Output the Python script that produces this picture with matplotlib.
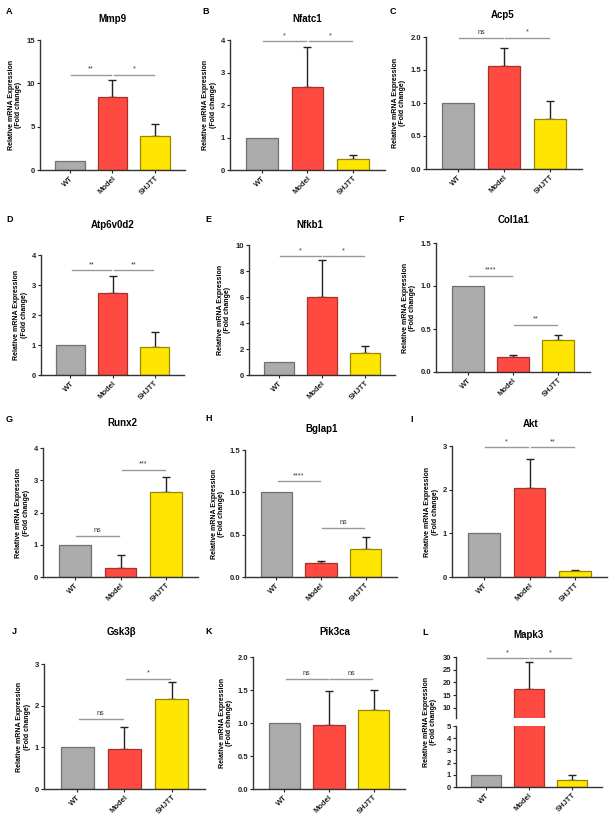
import matplotlib
matplotlib.use("Agg")
import matplotlib.pyplot as plt
import numpy as np

plt.rcParams['font.family'] = ['Liberation Sans', 'DejaVu Sans']
plt.rcParams['font.weight'] = 'bold'

# data
groups = ["WT", "Model", "SHJTT"]

mmp9 = [1.0, 8.4, 3.95]
mmp9_sd = [0, 1.95, 1.4]
mmp9_sig = [("**", 0, 1, 11.0), ("*", 1, 2, 11.0)]

nfatc1 = [1.0, 2.55, 0.34]
nfatc1_sd = [0, 1.22, 0.11]
nfatc1_sig = [("*", 0, 1, 3.97), ("*", 1, 2, 3.97)]

acp5 = [1.0, 1.555, 0.76]
acp5_sd = [0, 0.275, 0.27]
acp5_sig = [("ns", 0, 1, 1.99), ("*", 1, 2, 1.99)]

atp6v0d2 = [1.0, 2.73, 0.92]
atp6v0d2_sd = [0, 0.56, 0.5]
atp6v0d2_sig = [("**", 0, 1, 3.5), ("**", 1, 2, 3.5)]

nfkb1 = [1.0, 5.98, 1.66]
nfkb1_sd = [0, 2.85, 0.6]
nfkb1_sig = [("*", 0, 1, 9.15), ("*", 1, 2, 9.15)]

col1a1 = [1.0, 0.175, 0.37]
col1a1_sd = [0, 0.025, 0.06]
col1a1_sig = [("****", 0, 1, 1.12), ("**", 1, 2, 0.55)]

runx2 = [1.0, 0.29, 2.64]
runx2_sd = [0, 0.39, 0.46]
runx2_sig = [("ns", 0, 1, 1.26), ("***", 1, 2, 3.33)]

bglap1 = [1.0, 0.165, 0.325]
bglap1_sd = [0, 0.025, 0.145]
bglap1_sig = [("****", 0, 1, 1.13), ("ns", 1, 2, 0.58)]

akt = [1.0, 2.03, 0.135]
akt_sd = [0, 0.68, 0.035]
akt_sig = [("*", 0, 1, 2.98), ("**", 1, 2, 2.98)]

gsk3b = [1.0, 0.96, 2.17]
gsk3b_sd = [0, 0.52, 0.39]
gsk3b_sig = [("ns", 0, 1, 1.69), ("*", 1, 2, 2.65)]

pik3ca = [1.0, 0.97, 1.2]
pik3ca_sd = [0, 0.52, 0.3]
pik3ca_sig = [("ns", 0, 1, 1.67), ("ns", 1, 2, 1.67)]

mapk3 = [1.0, 17.5, 0.6]
mapk3_sd = [0, 10.5, 0.4]
mapk3_sig = [("*", 0, 1, 29.8), ("*", 1, 2, 29.8)]

# styles
fill = ["#ababab", "#ff4a42", "#ffe600"]
edge = ["#707070", "#a8322b", "#968800"]
W, H = 616, 821

fig = plt.figure(figsize=(W / 100, H / 100), dpi=100)


def rect(l, t, r, b):
    return [l / W, 1 - b / H, (r - l) / W, (b - t) / H]


def style(ax):
    for s in ["top", "right"]:
        ax.spines[s].set_visible(False)
    for s in ["left", "bottom"]:
        ax.spines[s].set_color("#333333")
        ax.spines[s].set_linewidth(1.0)
    ax.tick_params(axis="both", labelsize=5.5, length=2.5, width=0.8, pad=1, colors="#222222")
    ax.set_xlim(-0.7, 2.7)


def bars(ax, mean, sd):
    x = np.arange(3)
    ax.bar(x, mean, width=0.7, color=fill, edgecolor=edge, linewidth=0.9, zorder=2)
    sd = np.array(sd)
    m = sd > 0
    ax.errorbar(x[m], np.array(mean)[m], yerr=[np.zeros(m.sum()), sd[m]], fmt="none",
                ecolor="#222222", elinewidth=1.0, capsize=3.2, capthick=1.0, zorder=1)


def sigs(ax, sig, ymax):
    for txt, i, j, y in sig:
        ax.plot([i + 0.03, j - 0.03], [y, y], color="#999999", lw=1.0, clip_on=False)
        ax.text((i + j) / 2, y + ymax * 0.015, txt, ha="center", va="bottom",
                fontsize=5.2, fontweight="normal", color="#333333")


def xlabels(ax):
    ax.set_xticks(range(3))
    ax.set_xticklabels(groups, rotation=45, ha="right", rotation_mode="anchor")


ylab = "Relative mRNA Expression\n(Fold change)"

panels = [
    ("A", "Mmp9", mmp9, mmp9_sd, mmp9_sig, 15, [0, 5, 10, 15], "%d", (40, 40, 185, 170), (6, 12), (112, 19)),
    ("B", "Nfatc1", nfatc1, nfatc1_sd, nfatc1_sig, 4, [0, 1, 2, 3, 4], "%d", (230, 40, 385, 170), (202, 12), (307, 19)),
    ("C", "Acp5", acp5, acp5_sd, acp5_sig, 2.0, [0, 0.5, 1.0, 1.5, 2.0], "%.1f", (426, 37, 582, 169), (390, 12), (503, 15)),
    ("D", "Atp6v0d2", atp6v0d2, atp6v0d2_sd, atp6v0d2_sig, 4, [0, 1, 2, 3, 4], "%d", (41, 255, 184, 375), (6, 219), (113, 225)),
    ("E", "Nfkb1", nfkb1, nfkb1_sd, nfkb1_sig, 10, [0, 2, 4, 6, 8, 10], "%d", (249, 245, 395, 375), (205, 219), (310, 225)),
    ("F", "Col1a1", col1a1, col1a1_sd, col1a1_sig, 1.5, [0, 0.5, 1.0, 1.5], "%.1f", (436, 243, 590, 372), (398, 219), (513, 220)),
    ("G", "Runx2", runx2, runx2_sd, runx2_sig, 4, [0, 1, 2, 3, 4], "%d", (43, 448, 198, 577), (6, 419), (122, 423)),
    ("H", "Bglap1", bglap1, bglap1_sd, bglap1_sig, 1.5, [0, 0.5, 1.0, 1.5], "%.1f", (245, 450, 397, 577), (205, 418), (322, 429)),
    ("I", "Akt", akt, akt_sd, akt_sig, 3, [0, 1, 2, 3], "%d", (452, 446, 607, 577), (410, 419), (531, 424)),
    ("J", "Gsk3\u03b2", gsk3b, gsk3b_sd, gsk3b_sig, 3, [0, 1, 2, 3], "%d", (44, 664, 205, 789), (12, 631), (121, 632)),
    ("K", "Pik3ca", pik3ca, pik3ca_sd, pik3ca_sig, 2.0, [0, 0.5, 1.0, 1.5, 2.0], "%.1f", (253, 657, 405, 789), (205, 631), (335, 632)),
]

for letter, title, mean, sd, sig, ymax, yt, fmt, r, lp, tp in panels:
    ax = fig.add_axes(rect(*r))
    bars(ax, mean, sd)
    sigs(ax, sig, ymax)
    ax.set_ylim(0, ymax)
    ax.set_yticks(yt)
    ax.set_yticklabels([fmt % v for v in yt])
    xlabels(ax)
    style(ax)
    ax.set_ylabel(ylab, fontsize=5, fontweight="bold", labelpad=3, linespacing=1.1)
    fig.text(lp[0] / W, 1 - lp[1] / H, letter, fontsize=6.5, fontweight="bold", ha="left", va="center")
    fig.text(tp[0] / W, 1 - tp[1] / H, title, fontsize=7, fontweight="bold", ha="center", va="center")

# L: broken y axis
axl = fig.add_axes(rect(456, 726, 602, 787))
axu = fig.add_axes(rect(456, 657, 602, 718))
for a in (axl, axu):
    bars(a, mapk3, mapk3_sd)
    style(a)
axl.set_ylim(0, 5)
axl.set_yticks(range(6))
xlabels(axl)
axu.set_ylim(6, 30)
axu.set_yticks([10, 15, 20, 25, 30])
axu.spines["bottom"].set_visible(False)
axu.tick_params(axis="x", bottom=False, labelbottom=False)
sigs(axu, mapk3_sig, 24)
fig.text(422 / W, 1 - 632 / H, "L", fontsize=6.5, fontweight="bold", ha="left", va="center")
fig.text(529 / W, 1 - 635 / H, "Mapk3", fontsize=7, fontweight="bold", ha="center", va="center")
fig.text(430 / W, 1 - 722 / H, ylab, fontsize=5, fontweight="bold", ha="center", va="center",
         rotation=90, linespacing=1.1)

fig.savefig("out.png", dpi=100)
